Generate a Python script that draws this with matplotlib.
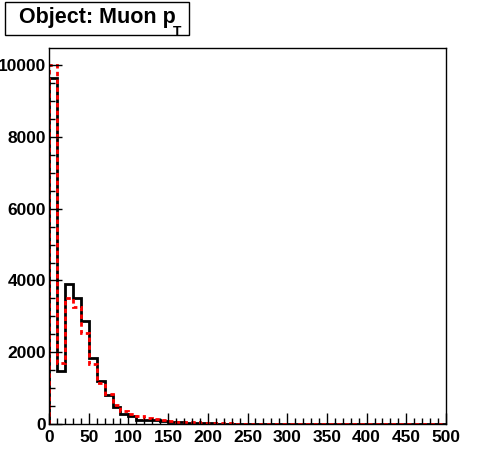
import matplotlib
matplotlib.use("Agg")
import matplotlib.pyplot as plt
import numpy as np
from matplotlib.patches import Rectangle
from matplotlib.ticker import MultipleLocator

plt.rcParams["font.family"] = ["Liberation Sans", "DejaVu Sans"]

# muon pT histogram, 10 GeV bins from 0 to 500
bin_edges = np.arange(0, 510, 10)
black_counts = [9650, 1480, 3910, 3520, 2880, 1850, 1210, 810, 480, 280,
                220, 120, 120, 100, 75, 55, 45, 35, 30, 25,
                15, 12, 10, 8, 6, 5, 4, 3, 3, 2,
                2, 1, 1, 1, 1, 0, 0, 0, 0, 0,
                0, 0, 0, 0, 0, 0, 0, 0, 0, 0]
red_counts = [10000, 1710, 3520, 3270, 2530, 1660, 1130, 830, 540, 370,
              280, 220, 170, 140, 110, 85, 65, 55, 45, 35,
              25, 20, 15, 12, 10, 8, 6, 5, 4, 3,
              3, 2, 2, 1, 1, 1, 1, 0, 0, 0,
              0, 0, 0, 0, 0, 0, 0, 0, 0, 0]
x_ticks = [0, 50, 100, 150, 200, 250, 300, 350, 400, 450, 500]
y_ticks = [0, 2000, 4000, 6000, 8000, 10000]
title_main = "Object: Muon p"
title_sub = "T"

W, H = 496, 472
fig = plt.figure(figsize=(W / 100, H / 100), dpi=100)
ax = fig.add_axes([49 / W, (H - 424) / H, 397 / W, 376 / H])

ax.stairs(black_counts, bin_edges, color="black", lw=2, baseline=0)
ax.stairs(red_counts, bin_edges, color="red", lw=2, linestyle=(0, (1.6, 1.2)), baseline=0)

ax.set_xlim(0, 500)
ax.set_ylim(0, 10480)
ax.set_xticks(x_ticks)
ax.set_yticks(y_ticks)
ax.xaxis.set_minor_locator(MultipleLocator(10))
ax.yaxis.set_minor_locator(MultipleLocator(500))
ax.tick_params(axis="x", which="major", direction="in", length=8, width=1, pad=4,
               labelsize=12.5)
ax.tick_params(axis="x", which="minor", direction="in", length=4, width=1)
ax.tick_params(axis="y", which="major", direction="in", length=9, width=1, pad=2,
               labelsize=12.5)
ax.tick_params(axis="y", which="minor", direction="in", length=4.5, width=1)
for lab in ax.get_xticklabels() + ax.get_yticklabels():
    lab.set_fontweight("bold")
for s in ax.spines.values():
    s.set_linewidth(1)

# title box in the top-left corner
fig.patches.append(Rectangle((4.5 / W, 1 - 35 / H), 184.5 / W, 33 / H,
                             transform=fig.transFigure, fill=False,
                             edgecolor="black", lw=1))
fig.text(19 / W, 1 - 22.5 / H, title_main, ha="left", va="baseline",
         fontsize=15.5, fontweight="bold")
fig.text(172.5 / W, 1 - 35.5 / H, title_sub, ha="left", va="baseline",
         fontsize=10, fontweight="bold")

fig.savefig("out.png", dpi=100)
